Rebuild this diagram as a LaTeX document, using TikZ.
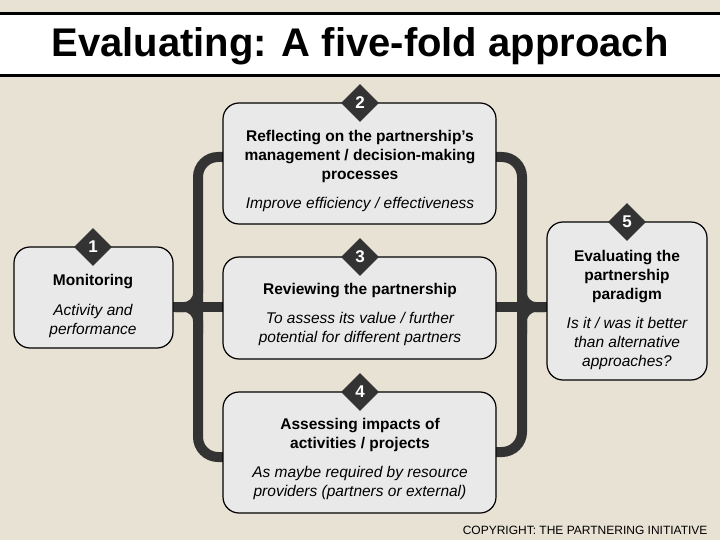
\documentclass[tikz,border=0pt]{standalone}
\usepackage{fontspec}
\setmainfont{Liberation Sans}
\usetikzlibrary{shapes.geometric}
\definecolor{bg}{HTML}{E8E2D4}
\definecolor{boxfill}{HTML}{E9E9E9}
\definecolor{dark}{HTML}{333333}
\tikzset{
  box/.style={draw=black, line width=1.2pt, fill=boxfill, rounded corners=16pt, inner sep=0pt},
  badge/.style={diamond, fill=dark, minimum width=38pt, minimum height=38pt, inner sep=0pt, text=white, font=\fontsize{17}{17}\selectfont\bfseries},
  conn/.style={draw=dark, line width=10pt},
  ttl/.style={align=center, font=\fontsize{15.5}{19}\selectfont\bfseries},
  sub/.style={align=center, font=\fontsize{15.5}{19}\selectfont\itshape},
}
\begin{document}
\begin{tikzpicture}[x=1pt,y=-1pt]
\useasboundingbox (0,0) rectangle (720,540);
\fill[bg] (0,0) rectangle (720,540);
% title band
\fill[white] (0,14) rectangle (720,76);
\draw[line width=3pt] (0,14) -- (720,14) (0,76) -- (720,76);
\node[font=\fontsize{40}{40}\selectfont\bfseries] (title) at (360,46) {Evaluating: A five-fold approach};
% connectors
\coordinate (L1) at (198,157);
\coordinate (L2) at (198,457);
\coordinate (R1) at (522,157);
\coordinate (R2) at (522,452);
\coordinate (J1) at (198,307);
\coordinate (J2) at (522,307);
\draw[conn, rounded corners=20pt] (230,157) -- (L1) -- (L2) -- (230,457);
\draw[conn, rounded corners=20pt] (490,157) -- (R1) -- (R2) -- (490,452);
\draw[conn] (170,307) -- (230,307);
\draw[conn] (490,307) -- (550,307);
\draw[conn, rounded corners=14pt] (175,307) -| (198,280);
\draw[conn, rounded corners=14pt] (175,307) -| (198,334);
\draw[conn, rounded corners=14pt] (545,307) -| (522,280);
\draw[conn, rounded corners=14pt] (545,307) -| (522,334);
% boxes
\node[box, minimum width=159pt, minimum height=101pt] (b1) at (93.5,297.5) {};
\node[box, minimum width=273pt, minimum height=121pt] (b2) at (359.5,163.5) {};
\node[box, minimum width=273pt, minimum height=102pt] (b3) at (359.5,308) {};
\node[box, minimum width=273pt, minimum height=121pt] (b4) at (359.5,452.5) {};
\node[box, minimum width=160pt, minimum height=158pt] (b5) at (627,301) {};
% badges
\node[badge] (d1) at (93,247) {1};
\node[badge] (d2) at (360,103) {2};
\node[badge] (d3) at (360,257) {3};
\node[badge] (d4) at (360,392) {4};
\node[badge] (d5) at (627,222) {5};
% texts
\node[ttl] (t1) at (93,282) {Monitoring};
\node[sub] (s1) at (93,321) {Activity and\\performance};
\node[ttl] (t2) at (360,156) {Reflecting on the partnership’s\\management / decision-making\\processes};
\node[sub] (s2) at (360,204) {Improve efficiency / effectiveness};
\node[ttl] (t3) at (360,291) {Reviewing the partnership};
\node[sub] (s3) at (360,329) {To assess its value / further\\potential for different partners};
\node[ttl] (t4) at (360,435) {Assessing impacts of\\activities / projects};
\node[sub] (s4) at (360,483) {As maybe required by resource\\providers (partners or external)};
\node[ttl] (t5) at (627,277) {Evaluating the\\partnership\\paradigm};
\node[sub] (s5) at (627,343) {Is it / was it better\\than alternative\\approaches?};
\node[anchor=east, font=\fontsize{12}{12}\selectfont] (copy) at (711,530) {COPYRIGHT: THE PARTNERING INITIATIVE};
\end{tikzpicture}
\end{document}
